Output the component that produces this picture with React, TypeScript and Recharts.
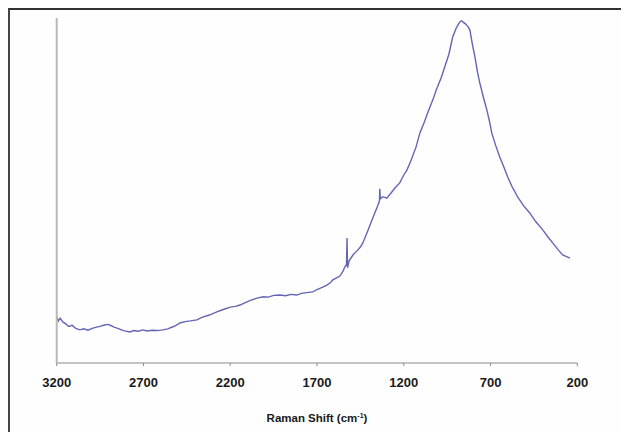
import React from "react";
import { LineChart, Line, XAxis, YAxis } from "recharts";

const wavenumbers = [
  3200, 3190, 3180, 3165, 3150, 3130, 3110, 3090, 3066, 3045, 3020, 2991, 2970, 2950, 2925, 2905,
  2885, 2870, 2852, 2830, 2810, 2778, 2755, 2730, 2703, 2680, 2650, 2620, 2588, 2560, 2530, 2510,
  2490, 2460, 2430, 2392, 2360, 2320, 2277, 2240, 2200, 2170, 2144, 2110, 2080, 2046, 2010, 1980,
  1950, 1914, 1880, 1850, 1816, 1790, 1760, 1724, 1700, 1670, 1643, 1620, 1609, 1590, 1568, 1550,
  1540, 1530, 1527, 1524, 1515, 1493, 1470, 1450, 1436, 1410, 1390, 1367, 1350, 1340, 1338, 1335,
  1320, 1298, 1270, 1250, 1223, 1200, 1182, 1160, 1130, 1107, 1080, 1060, 1033, 1010, 985, 964,
  940, 918, 900, 885, 875, 867, 858, 845, 830, 819, 805, 790, 775, 762, 740, 721,
  705, 693, 670, 647, 625, 601, 575, 543, 510, 474, 440, 399, 370, 342, 310, 284,
  265, 243,
];

const intensities = [
  13.4, 12.2, 13.0, 11.9, 11.4, 10.6, 10.9, 10.0, 9.6, 9.9, 9.5, 10.1, 10.4, 10.6, 11.0, 11.2,
  10.8, 10.4, 10.1, 9.7, 9.3, 9.0, 9.4, 9.2, 9.6, 9.3, 9.5, 9.4, 9.6, 9.9, 10.5, 11.0,
  11.6, 12.0, 12.2, 12.5, 13.3, 13.9, 14.8, 15.5, 16.2, 16.4, 16.8, 17.6, 18.2, 18.8, 19.2, 19.1,
  19.6, 19.7, 19.5, 19.9, 19.7, 20.2, 20.4, 20.6, 21.3, 21.9, 22.6, 23.4, 24.1, 24.6, 25.2, 26.6,
  27.8, 28.6, 36.2, 27.6, 29.6, 31.3, 32.5, 33.6, 34.8, 38.0, 40.6, 43.5, 45.6, 47.0, 50.5, 47.6,
  48.2, 47.8, 49.5, 50.8, 52.2, 54.5, 55.9, 58.5, 62.5, 66.7, 70.0, 72.8, 76.2, 79.5, 82.6, 85.8,
  89.5, 94.5, 96.8, 98.2, 99.0, 99.2, 98.8, 98.3, 97.5, 96.5, 92.5, 88.7, 84.3, 81.2, 76.8, 73.3,
  69.8, 66.7, 63.0, 59.7, 57.0, 53.9, 51.0, 48.1, 45.6, 43.5, 41.0, 38.6, 36.6, 34.8, 32.8, 31.3,
  30.9, 30.4,
];

const xTicks = [3200, 2700, 2200, 1700, 1200, 700, 200];

const data = wavenumbers.map((w, i) => ({ w, v: intensities[i] }));

const AxisTitle = (props: any) => {
  const vb = props.viewBox || {};
  const cx = vb.x + vb.width / 2;
  const y = 412;
  return (
    <text
      x={cx}
      y={y}
      textAnchor="middle"
      fontFamily="Liberation Sans, Arial, sans-serif"
      fontWeight="bold"
      fontSize={11.5}
      fill="#1a1a1a"
    >
      Raman Shift (cm
      <tspan fontSize={7} dy={-4}>-1</tspan>
      <tspan dy={4}>)</tspan>
    </text>
  );
};

export default function App() {
  return (
    <div
      style={{
        width: 640,
        height: 440,
        borderTop: "2px solid #333",
        borderLeft: "2px solid #444",
        background: "#fefefe",
        boxSizing: "border-box",
      }}
    >
      <LineChart
        width={610}
        height={420}
        data={data}
        margin={{ top: 8, right: 42.7, left: 45.7, bottom: 37 }}
      >
        <XAxis
          dataKey="w"
          type="number"
          domain={[200, 3200]}
          reversed
          ticks={xTicks}
          interval={0}
          height={30}
          axisLine={{ stroke: "#8a8a8a" }}
          tickLine={{ stroke: "#8a8a8a" }}
          tickSize={3}
          tickMargin={12}
          tick={{
            fill: "#1a1a1a",
            fontSize: 13,
            fontWeight: "bold",
            fontFamily: "Liberation Sans, Arial, sans-serif",
          }}
          label={<AxisTitle />}
        />
        <YAxis
          type="number"
          domain={[0, 100]}
          width={1}
          tick={false}
          tickLine={false}
          axisLine={{ stroke: "#b8b8b8", strokeWidth: 2 }}
        />
        <Line
          type="linear"
          dataKey="v"
          stroke="#6464b4"
          strokeWidth={1.4}
          dot={false}
          isAnimationActive={false}
        />
      </LineChart>
    </div>
  );
}
